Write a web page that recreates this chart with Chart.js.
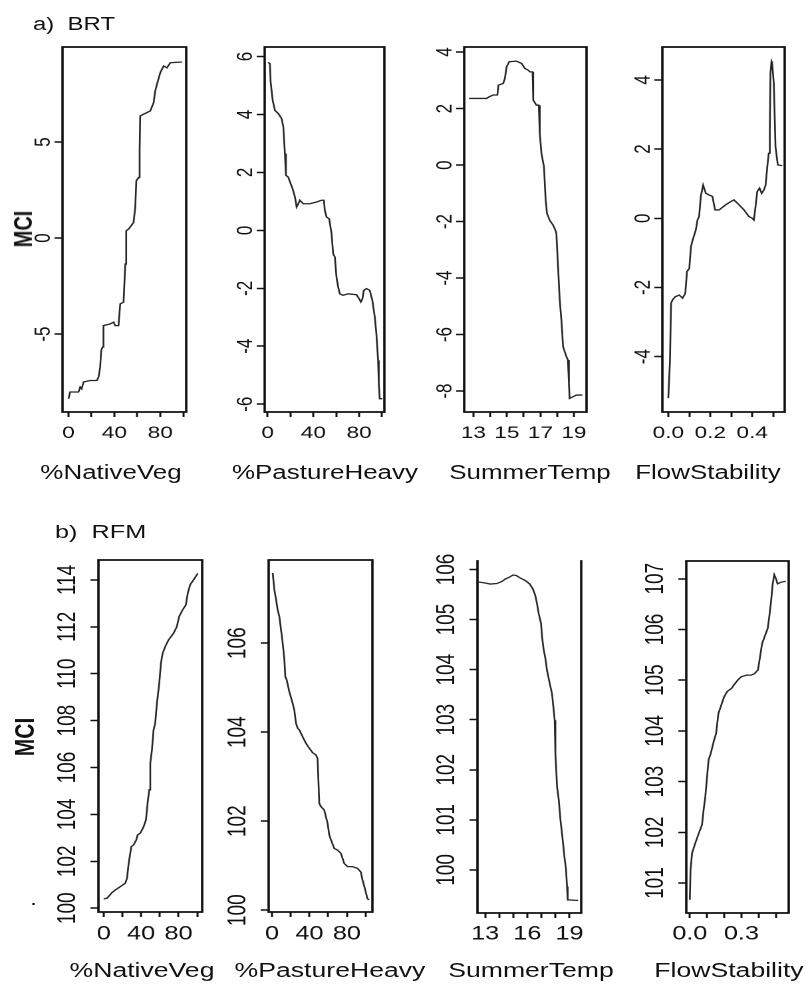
<!DOCTYPE html>
<html><head><meta charset="utf-8">
<script src="https://cdn.jsdelivr.net/npm/chart.js@4.4.1/dist/chart.umd.min.js"></script>
<style>
html,body{margin:0;padding:0;background:#fff;width:806px;height:985px;overflow:hidden;}
#stage{position:absolute;left:0;top:0;height:985px;transform-origin:0 0;}
.pan{position:absolute;}
.lbl{position:absolute;font-family:'Liberation Sans',Arial,sans-serif;color:#111;white-space:pre;line-height:1;}
</style></head><body>
<div id="stage"></div>
<script>
// ---------------- DATA ----------------
// a) BRT partial dependence
const brtNatVegX = [0,1.45,8.7,10.2,11.5,13.1,18.9,24.7,26.2,27.6,28.5,29.7,30.5,36.4,39.3,40.7,43.6,45.1,48,49.5,50.3,52.4,56.7,58.2,59.1,61.1,62,62.5,65.5,71.3,74.2,75.6,77.1,80,82.9,85.8,88.7,98.9];
const brtNatVegY = [-8.37,-8.02,-8.02,-7.76,-7.85,-7.5,-7.42,-7.42,-7.24,-6.72,-5.86,-5.68,-4.56,-4.47,-4.38,-4.56,-4.56,-3.43,-3.34,-1.35,0.38,0.47,0.81,1.59,2.98,3.15,4.54,6.36,6.45,6.62,7.05,7.66,8.01,8.61,8.96,8.87,9.13,9.17];

const brtPastX = [0.5,2,2.6,4.4,6.4,9.3,12.2,13.7,15.1,16,18,20.1,21.8,23.9,25.3,26.8,28.2,31.1,36.9,42.8,47.1,49.2,50,51.5,53.8,55.9,57.3,58.8,60.2,61.7,63.1,66,70.4,77.7,80,81.5,82.9,84.1,86.4,89.3,91.6,93.7,95.1,96.6,97.2,98,100.4];
const brtPastY = [5.8,5.75,5.12,4.49,4.14,4.03,3.86,3.57,2.65,1.9,1.84,1.61,1.44,1.15,0.81,0.92,1.04,0.92,0.92,0.98,1.04,1.04,0.69,0.46,0.4,-0.12,-0.81,-0.92,-1.61,-1.96,-2.19,-2.24,-2.19,-2.22,-2.36,-2.47,-2.36,-2.07,-2.01,-2.07,-2.42,-2.99,-3.57,-4.49,-5.29,-5.81,-5.81];

const brtTempX = [12.74,13.79,13.95,14.19,14.43,14.49,14.78,14.88,14.98,15.14,15.57,15.87,16.07,16.27,16.37,16.53,16.57,16.76,16.9,16.96,17.06,17.21,17.31,17.39,17.55,17.75,17.89,17.95,18.05,18.15,18.25,18.35,18.55,18.64,18.7,18.74,18.94,19.14,19.5];
const brtTempY = [2.36,2.36,2.42,2.48,2.48,2.83,2.89,3.07,3.48,3.66,3.68,3.6,3.42,3.36,3.3,3.3,2.3,2.12,2.12,1.12,0.41,-0.06,-1.24,-1.71,-1.95,-2.12,-2.3,-2.42,-3.6,-4.78,-5.49,-6.43,-6.78,-6.9,-7.73,-8.26,-8.2,-8.14,-8.14];

const brtFlowX = [0,0.008,0.013,0.02,0.033,0.052,0.068,0.081,0.089,0.1,0.108,0.116,0.131,0.139,0.147,0.155,0.166,0.179,0.195,0.21,0.223,0.242,0.274,0.297,0.313,0.337,0.361,0.384,0.4,0.408,0.416,0.424,0.435,0.445,0.456,0.464,0.472,0.479,0.484,0.487,0.492,0.495,0.503,0.511,0.522,0.543];
const brtFlowY = [-5.2,-4.1,-2.46,-2.36,-2.27,-2.22,-2.31,-2.17,-1.54,-1.45,-0.82,-0.63,-0.34,-0.05,0.05,0.63,0.96,0.72,0.67,0.63,0.24,0.24,0.39,0.48,0.53,0.39,0.24,0.05,0,-0.05,0.34,0.77,0.87,0.72,0.82,0.96,1.49,1.88,2.55,4.19,4.53,4.48,3.9,2.07,1.54,1.52];

// b) RFM partial dependence
const rfmNatVegX = [0,3.6,8.9,12.4,17.8,23.1,24.9,26.7,29.5,32,34.8,36.3,39.1,42.7,45.2,46.9,48.7,49.8,51.6,53.3,55.1,56.9,59.4,61.2,63,65.8,69.3,74.7,78.2,80.7,84.3,87.8,89.9,92.4,96,100.6];
const rfmNatVegY = [100.4,100.43,100.67,100.78,100.92,101.07,101.28,101.92,102.63,102.7,102.91,103.13,103.2,103.48,103.77,104.48,105.05,106.18,106.75,107.6,107.89,108.74,109.59,110.45,110.87,111.16,111.44,111.73,112.01,112.44,112.72,112.93,113.43,113.79,114.0,114.28];

const rfmPastX = [0.7,2.5,4.3,6,7.8,9.6,11.4,13.2,14.2,15.6,18.5,22,23.8,25.6,27.4,29.2,32.7,36.3,39.8,43.4,46.9,48.7,50.5,52.3,55.8,59.4,61.2,63,66.5,70,73.6,77.2,80.7,86,91.4,94.9,96.7,99.2,102,103.8];
const rfmPastY = [107.58,107.2,106.98,106.75,106.6,106.3,106,105.63,105.25,105.18,104.91,104.65,104.5,104.2,104.09,104.05,103.9,103.75,103.64,103.54,103.49,103.41,102.4,102.33,102.25,101.95,101.69,101.58,101.39,101.35,101.28,101.05,100.98,100.98,100.94,100.86,100.68,100.49,100.26,100.23];

const rfmTempX = [12.52,13,13.36,13.83,14.19,14.43,14.74,14.98,15.21,15.5,15.86,16.17,16.4,16.57,16.69,16.81,16.98,17.05,17.17,17.29,17.4,17.6,17.76,17.88,17.95,18,18.12,18.24,18.36,18.52,18.64,18.76,18.83,18.88,19.07,19.62];
const rfmTempY = [105.75,105.73,105.71,105.72,105.76,105.81,105.85,105.89,105.88,105.83,105.78,105.71,105.61,105.48,105.32,105.12,104.92,104.65,104.39,104.22,103.99,103.72,103.52,103.19,102.99,102.33,101.66,101.4,101,100.6,100.27,100,99.67,99.4,99.4,99.39];

const rfmFlowX = [0,0.004,0.013,0.032,0.052,0.071,0.08,0.09,0.109,0.122,0.141,0.153,0.166,0.18,0.199,0.218,0.243,0.262,0.281,0.3,0.329,0.357,0.376,0.396,0.405,0.42,0.434,0.453,0.462,0.472,0.482,0.491,0.501,0.51,0.529,0.558];
const rfmFlowY = [100.67,101.26,101.59,101.79,101.98,102.15,102.44,102.7,103.43,103.56,103.82,103.95,104.34,104.48,104.67,104.78,104.84,104.93,105.01,105.07,105.1,105.1,105.13,105.2,105.39,105.72,105.85,106.02,106.25,106.54,106.9,107.08,107.0,106.9,106.93,106.95];

// tick values and labels
const pctTicks = [0,20,40,60,80,100];
const pctLabels = ['0','','40','','80',''];
const tempTicks = [13,14,15,16,17,18,19];
const tempLabelsA = ['13','','15','','17','','19'];
const tempLabelsB = ['13','','','16','','','19'];
const flowTicks = [0,0.1,0.2,0.3,0.4,0.5];
const flowLabelsA = ['0.0','','0.2','','0.4',''];
const flowLabelsB = ['0.0','','','0.3','',''];

const yTicksA1 = [-5,0,5];
const yTicksA2 = [-6,-4,-2,0,2,4,6];
const yTicksA3 = [-8,-6,-4,-2,0,2,4];
const yTicksA4 = [-4,-2,0,2,4];
const yTicksB1 = [100,102,104,106,108,110,112,114];
const yTicksB2 = [100,102,104,106];
const yTicksB3 = [100,101,102,103,104,105,106];
const yTicksB4 = [101,102,103,104,105,106,107];

const axisTitles = ['%NativeVeg','%PastureHeavy','SummerTemp','FlowStability'];
const rowTitles = ['a)  BRT','b)  RFM'];
const yTitle = 'MCI';

// ---------------- LAYOUT ----------------
const SX = 1.33;
const FONT = "'Liberation Sans', Arial, Helvetica, sans-serif";
const stage = document.getElementById('stage');
stage.style.width = (806/SX)+'px';
stage.style.transform = 'scaleX('+SX+')';

const ROW = {
  a:{font:17, tickY:433.5, yPad:0.5, titleFont:19.5, titleY:473, titleX:[111,325,530,708]},
  b:{font:19, tickY:934.5, yPad:0.7, titleFont:20, titleY:970, titleX:[142,330,531,729]}
};

const panels = [
 {xs:brtNatVegX, ys:brtNatVegY, box:[62,186,47,412], xr:[-5.2,102.6], yr:[-9.06,9.95], xt:pctTicks, xl:pctLabels, yt:yTicksA1, row:'a'},
 {xs:brtPastX, ys:brtPastY, box:[265,385,47,412], xr:[-2.6,102.1], yr:[-6.27,6.33], xt:pctTicks, xl:pctLabels, yt:yTicksA2, row:'a'},
 {xs:brtTempX, ys:brtTempY, box:[464,587,47,412], xr:[12.45,19.75], yr:[-8.74,4.18], xt:tempTicks, xl:tempLabelsA, yt:yTicksA3, row:'a'},
 {xs:brtFlowX, ys:brtFlowY, box:[663,786,47,412], xr:[-0.0285,0.555], yr:[-5.6,4.95], xt:flowTicks, xl:flowLabelsA, yt:yTicksA4, row:'a'},
 {xs:rfmNatVegX, ys:rfmNatVegY, box:[98,202,560,912], xr:[-5.65,105.3], yr:[99.84,114.85], xt:pctTicks, xl:pctLabels, yt:yTicksB1, row:'b'},
 {xs:rfmPastX, ys:rfmPastY, box:[269,373,560,912], xr:[-3.6,107.3], yr:[99.96,107.87], xt:pctTicks, xl:pctLabels, yt:yTicksB2, row:'b'},
 {xs:rfmTempX, ys:rfmTempY, box:[477,581,561,913], xr:[12.45,19.84], yr:[99.14,106.17], xt:tempTicks, xl:tempLabelsB, yt:yTicksB3, row:'b', noTop:true},
 {xs:rfmFlowX, ys:rfmFlowY, box:[686,789,561,913], xr:[-0.0206,0.575], yr:[100.41,107.35], xt:flowTicks, xl:flowLabelsB, yt:yTicksB4, row:'b'}
];

const boxPlugin = {
  id:'box',
  afterDatasetsDraw(chart, args, opts){
    const {ctx, chartArea:a} = chart;
    ctx.save();
    ctx.strokeStyle = '#111';
    ctx.lineWidth = 1.8;
    ctx.lineCap = 'square';
    ctx.beginPath();
    if (!opts.noTop) { ctx.moveTo(a.left, a.top); ctx.lineTo(a.right, a.top); }
    ctx.moveTo(a.left, a.top); ctx.lineTo(a.left, a.bottom); ctx.lineTo(a.right, a.bottom); ctx.lineTo(a.right, a.top);
    ctx.stroke();
    ctx.restore();
  }
};

function makePanel(p){
  const r = ROW[p.row];
  const lineH = r.font*1.2;
  const [L,R,T,B] = p.box;
  const Lu = L/SX, Ru = R/SX;
  const yW = 36, padT = 16, padR = 6, tl = 5;
  const areaW = Math.round(Ru-Lu);
  const H = Math.round((B-T) + padT + (r.tickY + lineH/2 + 4 - B));
  const hx = H - (B-T) - padT;
  const div = document.createElement('div');
  div.className = 'pan';
  div.style.left = (Lu - yW)+'px';
  div.style.top = (T - padT)+'px';
  div.style.width = (areaW + yW + padR)+'px';
  div.style.height = H+'px';
  const cv = document.createElement('canvas');
  div.appendChild(cv);
  stage.appendChild(div);
  const tickPad = r.tickY - B - tl - lineH/2;
  new Chart(cv, {
    type:'line',
    data:{datasets:[{data:p.xs.map((x,i)=>({x:x, y:p.ys[i]})), borderColor:'#262626', borderWidth:1.3, pointRadius:0, tension:0, fill:false}]},
    options:{
      responsive:true, maintainAspectRatio:false, animation:false, devicePixelRatio:2,
      layout:{padding:{left:0, top:padT, right:padR, bottom:0}},
      plugins:{legend:{display:false}, tooltip:{enabled:false}, box:{noTop:!!p.noTop}},
      scales:{
        x:{type:'linear', position:'bottom', min:p.xr[0], max:p.xr[1],
           afterBuildTicks(s){ s.ticks = p.xt.map(v=>({value:v})); },
           afterFit(s){ s.height = hx; s.paddingLeft = 0; s.paddingRight = 0; },
           ticks:{autoSkip:false, maxRotation:0, minRotation:0, padding:tickPad, color:'#111', font:{family:FONT, size:r.font}, callback:(v,i)=>p.xl[i]},
           grid:{drawOnChartArea:false, drawTicks:true, tickLength:tl, tickWidth:1.5, tickColor:'#111', color:'#111'},
           border:{display:false}
        },
        y:{type:'linear', position:'left', min:p.yr[0], max:p.yr[1],
           afterBuildTicks(s){ s.ticks = p.yt.map(v=>({value:v})); },
           afterFit(s){ s.width = yW; s.paddingTop = 0; s.paddingBottom = 0; },
           ticks:{autoSkip:false, minRotation:90, maxRotation:90, crossAlign:'center', padding:r.yPad, color:'#111', font:{family:FONT, size:r.font}, callback:(v)=>String(v)},
           grid:{drawOnChartArea:false, drawTicks:true, tickLength:6, tickWidth:1.5, tickColor:'#111', color:'#111'},
           border:{display:false}
        }
      }
    },
    plugins:[boxPlugin]
  });
}
panels.forEach(makePanel);

function addLabel(text, x, top, size, extra){
  const d = document.createElement('div');
  d.className = 'lbl';
  d.textContent = text;
  d.style.left = (x/SX)+'px';
  d.style.top = top+'px';
  d.style.fontSize = size+'px';
  if (extra) Object.assign(d.style, extra);
  stage.appendChild(d);
  return d;
}
const centered = {transform:'translate(-50%,-50%)'};
['a','b'].forEach(k=>{
  const r = ROW[k];
  axisTitles.forEach((t,i)=>addLabel(t, r.titleX[i], r.titleY, r.titleFont, centered));
});
addLabel(rowTitles[0], 33, 14.8, 18);
addLabel(rowTitles[1], 55, 522, 19);
addLabel(yTitle, 22.5, 229, 20, {fontWeight:'bold', transform:'translate(-50%,-50%) rotate(-90deg)'});
addLabel(yTitle, 24, 737, 21, {fontWeight:'bold', transform:'translate(-50%,-50%) rotate(-90deg)'});
addLabel('.', 30, 889, 19);
</script>
</body></html>
